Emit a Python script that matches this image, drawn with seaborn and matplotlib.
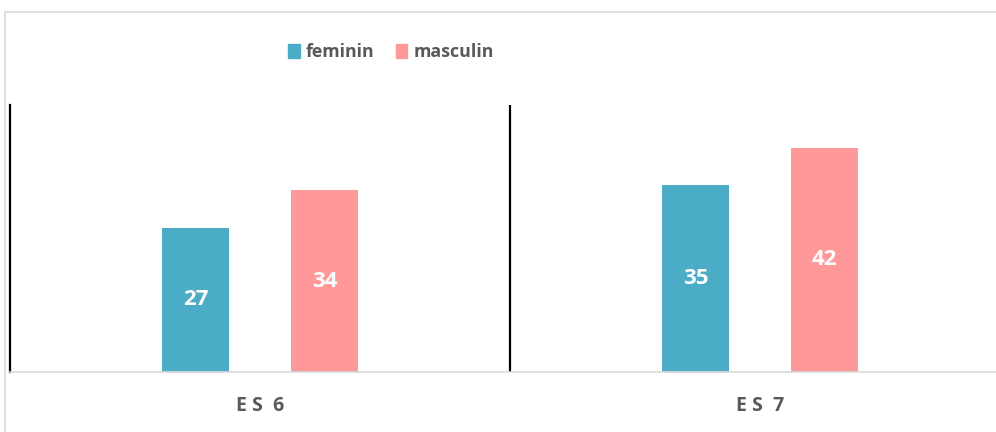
import matplotlib
matplotlib.use("Agg")
import matplotlib.pyplot as plt
import seaborn as sns
import pandas as pd
from matplotlib.patches import Rectangle

categories = ["ES 6", "ES 7"]
series = ["feminin", "masculin"]
feminin = [27, 35]
masculin = [34, 42]
colors = ["#4BACC6", "#FF9999"]

df = pd.DataFrame({
    "cat": categories * 2,
    "sex": [series[0]] * 2 + [series[1]] * 2,
    "val": feminin + masculin,
})

sns.set_style("white")
plt.rcParams["font.family"] = ["Open Sans", "DejaVu Sans"]

W, H = 996, 432
fig = plt.figure(figsize=(W / 100, H / 100), dpi=100)
ax = fig.add_axes([10 / W, (H - 372) / H, 1000 / W, 267 / H])

sns.barplot(data=df, x="cat", y="val", hue="sex", palette=colors,
            width=0.516, dodge=True, ax=ax, legend=False, saturation=1,
            order=categories, hue_order=series)

bw = 67 / 500
for p in ax.patches:
    c = p.get_x() + p.get_width() / 2
    p.set_x(c - bw / 2)
    p.set_width(bw)
    p.set_edgecolor("none")

for cont in ax.containers:
    ax.bar_label(cont, label_type="center", color="white", fontsize=16,
                 fontweight="bold")

ax.set_xlim(-0.5, 1.5)
ax.set_ylim(0, 50)
ax.set_xlabel("")
ax.set_ylabel("")
ax.set_yticks([])
ax.set_xticks(range(len(categories)))
ax.set_xticklabels([" ".join(c.split(" ")[0]) + "  " + c.split(" ")[1] for c in categories],
                   fontsize=14, fontweight="bold", color="#595959")
ax.tick_params(axis="x", length=0, pad=17)
for s in ["top", "right"]:
    ax.spines[s].set_visible(False)
ax.spines["left"].set_color("black")
ax.spines["left"].set_linewidth(1.6)
ax.spines["bottom"].set_color("#d9d9d9")
ax.spines["bottom"].set_linewidth(1.2)
ax.axvline(0.5, color="black", lw=1.6)

# legend
handles = [Rectangle((0, 0), 1, 1, color=c) for c in colors]
fig.legend(handles, series, loc="center", bbox_to_anchor=(391 / W, 1 - 52 / H),
           ncol=2, frameon=False, handlelength=0.64, handleheight=0.85,
           handletextpad=0.34, columnspacing=1.2,
           prop={"size": 12.8, "weight": "bold"},
           labelcolor="#595959")

# outer border (left and top visible)
fig.add_artist(plt.Line2D([5 / W, 5 / W], [0, 1 - 12 / H], color="#d9d9d9",
                          lw=1.2, transform=fig.transFigure))
fig.add_artist(plt.Line2D([5 / W, 1], [1 - 12 / H, 1 - 12 / H], color="#d9d9d9",
                          lw=1.2, transform=fig.transFigure))

fig.savefig("out.png", dpi=100)
